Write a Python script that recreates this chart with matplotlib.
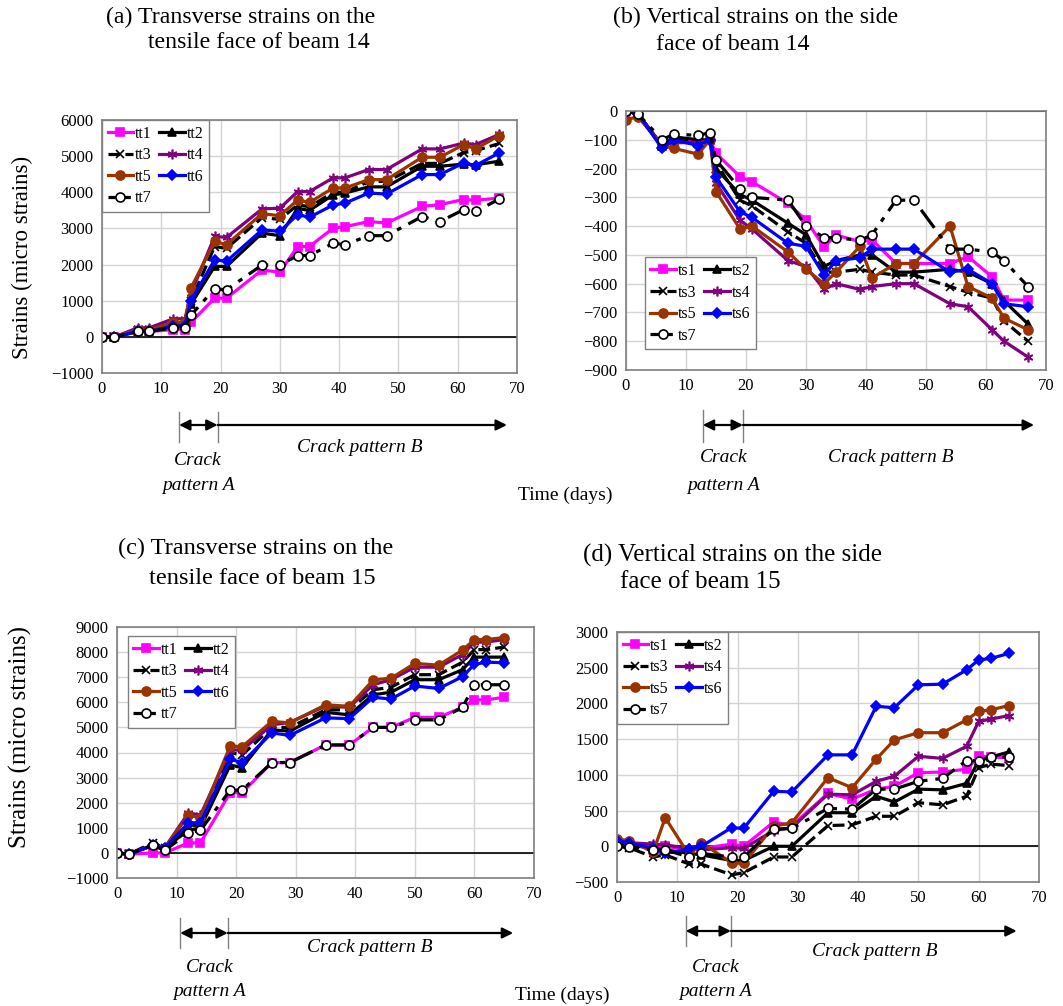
import matplotlib
matplotlib.use('Agg')
import matplotlib.pyplot as plt
from matplotlib import transforms

plt.rcParams['font.family'] = ['Liberation Serif', 'DejaVu Serif']

# ---------------- data ----------------
t_ab = [0, 2, 6, 8, 12, 14, 15, 19, 21, 27, 30, 33, 35, 39, 41, 45, 48, 54, 57, 61, 63, 67]
t_cd = [0, 2, 6, 8, 12, 14, 19, 21, 26, 29, 35, 39, 43, 46, 50, 54, 58, 60, 62, 65]

a_tt1 = [0, -10, 150, 150, 200, 200, 400, 1070, 1070, 1850, 1790, 2500, 2500, 3010, 3050, 3190, 3150, 3610, 3660, 3800, 3780, 3840]
a_tt2 = [0, -10, 150, 150, 300, 300, 900, 1950, 1950, 2870, 2800, 3550, 3500, 3930, 3980, 4150, 4150, 4720, 4720, 4780, 4760, 4860]
a_tt3 = [0, -10, 200, 200, 350, 350, 1000, 2500, 2450, 3300, 3250, 3650, 3600, 4000, 4000, 4300, 4300, 4800, 4800, 5100, 5150, 5350]
a_tt4 = [0, -10, 250, 250, 500, 500, 1200, 2780, 2750, 3540, 3560, 4020, 4020, 4400, 4400, 4630, 4630, 5200, 5200, 5360, 5320, 5600]
a_tt5 = [0, -10, 200, 200, 400, 400, 1350, 2640, 2550, 3410, 3350, 3790, 3720, 4120, 4120, 4350, 4350, 4970, 4970, 5320, 5200, 5570]
a_tt6 = [0, -10, 150, 150, 300, 300, 1000, 2130, 2090, 2960, 2920, 3380, 3310, 3650, 3700, 3980, 3950, 4490, 4490, 4810, 4740, 5090]
a_tt7 = [0, -10, 150, 150, 250, 250, 600, 1330, 1300, 1990, 1990, 2250, 2250, 2590, 2550, 2800, 2800, 3330, 3190, 3520, 3470, 3810]

b_ts1 = [0, -10, -120, -100, -110, -100, -147, -228, -246, -321, -379, -472, -431, -454, -448, -530, -530, -530, -506, -576, -657, -657]
b_ts2 = [0, -10, -120, -90, -100, -100, -200, -290, -310, -390, -430, -540, -520, -500, -500, -560, -560, -550, -560, -600, -660, -740]
b_ts3 = [0, -10, -120, -100, -110, -100, -180, -310, -330, -420, -460, -560, -560, -550, -560, -570, -570, -610, -630, -650, -730, -800]
b_ts4 = [0, -10, -120, -110, -110, -100, -250, -380, -410, -520, -540, -620, -600, -620, -610, -600, -600, -670, -680, -760, -800, -855]
b_ts5 = [-30, -20, -120, -130, -150, -100, -280, -410, -400, -490, -550, -600, -560, -470, -580, -530, -530, -400, -610, -650, -720, -760]
b_ts6 = [0, -10, -130, -100, -120, -100, -230, -350, -370, -460, -470, -570, -520, -510, -480, -480, -480, -560, -550, -600, -670, -680]
b_ts7 = [0, -10, -100, -80, -85, -75, -170, -270, -300, -310, -400, -440, -440, -450, -430, -310, -310, -480, -480, -490, -520, -610]

c_tt1 = [0, -50, 0, 0, 400, 400, 2400, 2400, 3600, 3600, 4300, 4300, 5000, 5000, 5400, 5400, 5800, 6100, 6100, 6200]
c_tt2 = [0, -50, 300, 200, 900, 1000, 3500, 3400, 4900, 4850, 5600, 5500, 6300, 6400, 6900, 6900, 7300, 7800, 7800, 7800]
c_tt3 = [0, -50, 400, 200, 1100, 1100, 4000, 3900, 5000, 5000, 5700, 5700, 6500, 6600, 7100, 7100, 7600, 8100, 8100, 8200]
c_tt4 = [0, -50, 300, 200, 1600, 1500, 4100, 4100, 5100, 5200, 5850, 5800, 6700, 6900, 7400, 7400, 7900, 8400, 8400, 8500]
c_tt5 = [0, -50, 300, 200, 1500, 1400, 4260, 4230, 5240, 5180, 5900, 5840, 6890, 6960, 7550, 7480, 8080, 8500, 8500, 8580]
c_tt6 = [0, -50, 300, 200, 1200, 1200, 3730, 3600, 4780, 4680, 5380, 5350, 6200, 6130, 6650, 6550, 7020, 7510, 7600, 7575]
c_tt7 = [0, -50, 300, 100, 800, 900, 2500, 2500, 3600, 3600, 4300, 4300, 5000, 5000, 5300, 5300, 5800, 6700, 6700, 6700]

d_ts1 = [50, 30, 0, 0, -50, -30, 30, 0, 340, 290, 740, 660, 800, 840, 1030, 1040, 1080, 1260, 1250, 1240]
d_ts2 = [30, 20, -30, -50, -100, -120, -200, -200, 0, 0, 470, 470, 700, 620, 800, 790, 880, 1200, 1250, 1320]
d_ts3 = [0, -20, -150, -120, -250, -250, -400, -370, -150, -150, 290, 300, 420, 420, 610, 580, 700, 1100, 1150, 1130]
d_ts4 = [80, 50, 30, 20, -30, -50, -20, -30, 220, 260, 730, 720, 910, 980, 1260, 1230, 1400, 1750, 1780, 1830]
d_ts5 = [100, 80, -80, 400, -130, 50, -230, -240, 280, 330, 960, 820, 1220, 1490, 1590, 1590, 1770, 1890, 1910, 1970]
d_ts6 = [80, 50, -30, -100, -40, 0, 260, 250, 770, 760, 1280, 1280, 1960, 1940, 2260, 2270, 2470, 2610, 2630, 2700]
d_ts7 = [0, -10, -50, -50, -150, -100, -150, -150, 240, 250, 530, 520, 800, 800, 910, 950, 1200, 1200, 1250, 1250]

labels_tt = ['tt1', 'tt2', 'tt3', 'tt4', 'tt5', 'tt6', 'tt7']
labels_ts = ['ts1', 'ts2', 'ts3', 'ts4', 'ts5', 'ts6', 'ts7']

# ---------------- styles ----------------
styles = [
    dict(color='#FF00FF', marker='s', ls='-', mfc='#FF00FF', mec='#FF00FF', ms=6),
    dict(color='black', marker='^', ls='-', mfc='black', mec='black', ms=6),
    dict(color='black', marker='x', ls='--', mfc='black', mec='black', ms=6),
    dict(color='#800080', marker=(6, 2, 0), ls='-', mfc='#800080', mec='#800080', ms=7),
    dict(color='#993300', marker='o', ls='-', mfc='#993300', mec='#993300', ms=6.5),
    dict(color='#0000FF', marker='D', ls='-', mfc='#0000FF', mec='#0000FF', ms=5),
    dict(color='black', marker='o', ls=(0, (7, 2.5, 1.5, 2.5)), mfc='white', mec='black', ms=6.5),
]

W, H = 1063, 1006
fig = plt.figure(figsize=(W / 100, H / 100), dpi=100)


def px_axes(l, t, r, b):
    return fig.add_axes([l / W, 1 - b / H, (r - l) / W, (b - t) / H])


def setup(ax, ylim, ystep):
    ax.set_xlim(0, 70)
    ax.set_ylim(*ylim)
    ax.set_xticks(range(0, 71, 10))
    ax.set_yticks(range(ylim[0], ylim[1] + 1, ystep))
    ax.grid(True, color='#d4d4d4', lw=1.0)
    ax.set_axisbelow(True)
    ax.axhline(0, color='black', lw=1.2, zorder=1.5)
    for s in ax.spines.values():
        s.set_color('#7f7f7f')
        s.set_linewidth(1.2)
    ax.tick_params(labelsize=12, length=0, pad=6)


def draw(ax, t, series, labels, leg_kw):
    handles = []
    for y, st, lab in zip(series, styles, labels):
        h, = ax.plot(t, y, color=st['color'], ls=st['ls'], lw=2.3, marker=st['marker'],
                     mfc=st['mfc'], mec=st['mec'], ms=st['ms'], mew=1.2, label=lab)
        handles.append(h)
    order = [0, 2, 4, 6, 1, 3, 5]
    leg = ax.legend([handles[i] for i in order], [labels[i] for i in order], ncol=2,
                    fontsize=11.5, fancybox=False, framealpha=1, edgecolor='#808080',
                    handlelength=1.6, handletextpad=0.1, columnspacing=0.5,
                    labelspacing=0.35, borderpad=0.35, **leg_kw)
    leg.get_frame().set_linewidth(1.0)


def phases(ax, xa, xb, xend, y, vt, vb, xB, yB, xA, yA1, yA2):
    tr = transforms.blended_transform_factory(ax.transData, fig.transFigure)
    fy = lambda p: 1 - p / H
    for xv in (xa, xb):
        ax.plot([xv, xv], [fy(vt), fy(vb)], transform=tr, color='#808080', lw=1.0, clip_on=False)
    ax.annotate('', xy=(xb, fy(y)), xytext=(xa, fy(y)), xycoords=tr, textcoords=tr,
                arrowprops=dict(arrowstyle='<|-|>', color='black', lw=1.6, mutation_scale=16,
                                shrinkA=0, shrinkB=0))
    ax.annotate('', xy=(xend, fy(y)), xytext=(xb, fy(y)), xycoords=tr, textcoords=tr,
                arrowprops=dict(arrowstyle='-|>', color='black', lw=1.6, mutation_scale=16,
                                shrinkA=0, shrinkB=0))
    ax.text(xB, fy(yB), 'Crack pattern B', transform=tr, ha='center', va='center',
            style='italic', fontsize=14)
    ax.text(xA, fy(yA1), 'Crack', transform=tr, ha='center', va='center', style='italic', fontsize=14)
    ax.text(xA, fy(yA2), 'pattern A', transform=tr, ha='center', va='center', style='italic', fontsize=14)


# (a)
ax_a = px_axes(102, 120, 517, 373)
setup(ax_a, (-1000, 6000), 1000)
draw(ax_a, t_ab, [a_tt1, a_tt2, a_tt3, a_tt4, a_tt5, a_tt6, a_tt7], labels_tt,
     dict(loc='upper left', bbox_to_anchor=(0, 1), borderaxespad=0))
phases(ax_a, 13, 19.5, 68.3, 425, 412, 442, 43.5, 447, 16.2, 460, 485)

# (b)
ax_b = px_axes(626, 111, 1046, 370)
setup(ax_b, (-900, 0), 100)
draw(ax_b, t_ab, [b_ts1, b_ts2, b_ts3, b_ts4, b_ts5, b_ts6, b_ts7], labels_ts,
     dict(loc='lower left', bbox_to_anchor=(0.045, 0.08), borderaxespad=0))
phases(ax_b, 12.8, 19.5, 68, 425, 410, 442, 44.1, 458, 16.3, 458, 485)

# (c)
ax_c = px_axes(117, 627, 534, 878)
setup(ax_c, (-1000, 9000), 1000)
draw(ax_c, t_cd, [c_tt1, c_tt2, c_tt3, c_tt4, c_tt5, c_tt6, c_tt7], labels_tt,
     dict(loc='upper left', bbox_to_anchor=(0.026, 0.964), borderaxespad=0))
phases(ax_c, 10.6, 18.6, 66.5, 933, 918, 948, 42.5, 948, 15.6, 967, 991)

# (d)
ax_d = px_axes(617, 632, 1039, 882)
setup(ax_d, (-500, 3000), 500)
draw(ax_d, t_cd, [d_ts1, d_ts2, d_ts3, d_ts4, d_ts5, d_ts6, d_ts7], labels_ts,
     dict(loc='upper left', bbox_to_anchor=(0, 1), borderaxespad=0))
phases(ax_d, 11.4, 18.9, 66.3, 931, 916, 946, 42.8, 952, 16.3, 967, 991)

# titles
def ftext(x, y, s, fs):
    fig.text(x / W, 1 - y / H, s, ha='left', va='center', fontsize=fs)

ftext(106, 17, '(a) Transverse strains on the', 17.2)
ftext(148, 43, 'tensile face of beam 14', 17.2)
ftext(613, 17, '(b) Vertical strains on the side', 17.2)
ftext(656, 44, 'face of beam 14', 17.2)
ftext(118, 548, '(c) Transverse strains on the', 17.6)
ftext(149, 579, 'tensile face of beam 15', 17.6)
ftext(583, 555, '(d) Vertical strains on the side', 18.0)
ftext(620, 582, 'face of beam 15', 18.0)

fig.text(22 / W, 1 - 257 / H, 'Strains (micro strains)', rotation=90, ha='center', va='center', fontsize=16.5)
fig.text(20 / W, 1 - 737 / H, 'Strains (micro strains)', rotation=90, ha='center', va='center', fontsize=18)
fig.text(565 / W, 1 - 495 / H, 'Time (days)', ha='center', va='center', fontsize=14)
fig.text(562 / W, 1 - 995 / H, 'Time (days)', ha='center', va='center', fontsize=14)

fig.savefig('out.png', dpi=100)
